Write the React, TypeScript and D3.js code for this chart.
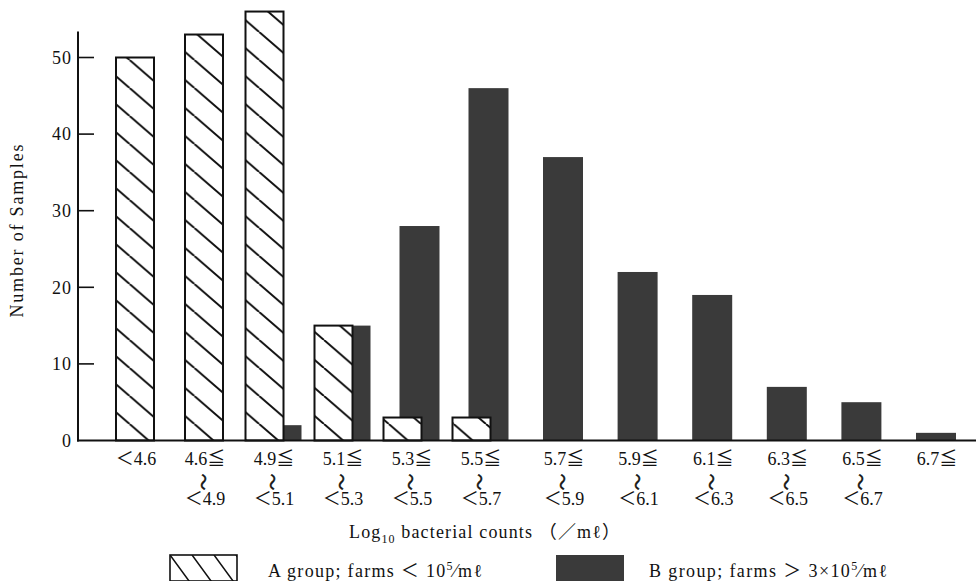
import React from "react";
import * as d3 from "d3";

// Bin bounds (Log10 bacterial counts /mℓ)
const binLower: (string | null)[] = [null, "4.6", "4.9", "5.1", "5.3", "5.5", "5.7", "5.9", "6.1", "6.3", "6.5", "6.7"];
const binUpper: (string | null)[] = ["4.6", "4.9", "5.1", "5.3", "5.5", "5.7", "5.9", "6.1", "6.3", "6.5", "6.7", null];

// Number of samples
const groupA = [50, 53, 56, 15, 3, 3, 0, 0, 0, 0, 0, 0];
const groupB = [0, 0, 2, 15, 28, 46, 37, 22, 19, 7, 5, 1];

const yTicks = [0, 10, 20, 30, 40, 50];

const yTitle = "Number of Samples";
const legendA = "A group; farms";
const legendB = "B group; farms";

const W = 976;
const H = 581;
const FONT = "'Liberation Serif', 'DejaVu Serif', 'Noto Sans CJK JP', serif";
const INK = "#111";
const DARK = "#3a3a3a";

export default function App() {
  const idx = d3.range(groupA.length);
  const x = d3.scaleLinear().domain([0, 5, 6, 11]).range([135, 480, 563, 936]);
  const y = d3.scaleLinear().domain([0, 50]).range([440.5, 57.5]);
  const axisX = 78;
  const axisTop = y(53.4);
  const wA = 38;
  const wB = 40;
  const shift = 8.5;

  const pw = 32.4;
  const ph = 28;

  const barA = (i: number) => {
    const c = x(i) - (groupB[i] > 0 ? shift : 0);
    return { x0: c - wA / 2, y0: y(groupA[i]), h: y(0) - y(groupA[i]) };
  };
  const barB = (i: number) => {
    const c = x(i) + (groupA[i] > 0 ? shift : 0);
    return { x0: c - wB / 2, y0: y(groupB[i]), h: y(0) - y(groupB[i]) };
  };

  return (
    <svg
      width={W}
      height={H}
      viewBox={`0 0 ${W} ${H}`}
      style={{ position: "absolute", left: 0, top: 0, background: "#fff" }}
      fontFamily={FONT}
    >
      <defs>
        <pattern id="hatch" patternUnits="userSpaceOnUse" width={pw} height={ph} x={0} y={4}>
          <rect width={pw} height={ph} fill="#fff" />
          <path
            d={`M${-pw},0 L0,${ph} M0,0 L${pw},${ph} M${pw},0 L${2 * pw},${ph}`}
            stroke={INK}
            strokeWidth={2}
          />
        </pattern>
        <pattern id="hatchLegend" patternUnits="userSpaceOnUse" width={22} height={30} x={170} y={555}>
          <rect width={22} height={30} fill="#fff" />
          <path d={`M-22,0 L0,30 M0,0 L22,30 M22,0 L44,30`} stroke={INK} strokeWidth={1.6} />
        </pattern>
      </defs>

      {/* B bars (behind) */}
      {idx
        .filter((i) => groupB[i] > 0)
        .map((i) => {
          const b = barB(i);
          return <rect key={`b${i}`} x={b.x0} y={b.y0} width={wB} height={b.h} fill={DARK} />;
        })}

      {/* A bars (front) */}
      {idx
        .filter((i) => groupA[i] > 0)
        .map((i) => {
          const a = barA(i);
          return (
            <rect
              key={`a${i}`}
              x={a.x0}
              y={a.y0}
              width={wA}
              height={a.h}
              fill="url(#hatch)"
              stroke={INK}
              strokeWidth={2}
            />
          );
        })}

      {/* axes */}
      <line x1={axisX} x2={axisX} y1={axisTop} y2={y(0) + 1} stroke={INK} strokeWidth={2} />
      <line x1={axisX - 1} x2={W} y1={y(0)} y2={y(0)} stroke={INK} strokeWidth={2} />

      {/* y ticks */}
      {yTicks.map((t) => (
        <g key={`t${t}`}>
          {t > 0 && <line x1={axisX} x2={axisX + 16} y1={y(t)} y2={y(t)} stroke={INK} strokeWidth={1.6} />}
          <text x={72} y={y(t)} dy="0.35em" textAnchor="end" fontSize={18} fill={INK} letterSpacing={1}>
            {t}
          </text>
        </g>
      ))}

      {/* y title */}
      <text
        transform={`translate(23, ${231}) rotate(-90)`}
        textAnchor="middle"
        fontSize={18}
        fill={INK}
        textLength={173}
        lengthAdjust="spacing"
      >
        {yTitle}
      </text>

      {/* x tick labels */}
      {idx.map((i) => {
        const cx = x(i) + 1;
        const lo = binLower[i];
        const hi = binUpper[i];
        return (
          <g key={`l${i}`} fill={INK} fontSize={18} textAnchor="middle">
            {lo === null && hi !== null && (
              <text x={cx} y={465}>
                {"＜" + hi}
              </text>
            )}
            {lo !== null && (
              <text x={cx} y={465}>
                {lo + "≦"}
              </text>
            )}
            {lo !== null && hi !== null && (
              <>
                <text
                  transform={`translate(${cx - 2}, 482) rotate(90)`}
                  fontSize={17}
                  dy="0.35em"
                  textAnchor="middle"
                  stroke={INK}
                  strokeWidth={0.5}
                  fontFamily="'Noto Sans CJK JP', sans-serif"
                >
                  {"〜"}
                </text>
                <text x={cx} y={505}>
                  {"＜" + hi}
                </text>
              </>
            )}
          </g>
        );
      })}

      {/* x title */}
      <text x={349} y={538} fontSize={18} fill={INK} textLength={271} lengthAdjust="spacing">
        Log
        <tspan fontSize={12} dy={5}>
          10
        </tspan>
        <tspan dy={-5}> bacterial counts （／mℓ）</tspan>
      </text>

      {/* legend */}
      <rect x={170} y={555} width={67} height={26} fill="url(#hatchLegend)" stroke={INK} strokeWidth={1.6} />
      <text x={268} y={577} fontSize={18} fill={INK} textLength={214} lengthAdjust="spacing">
        {legendA} ＜ 10
        <tspan fontSize={12} dy={-7}>
          5
        </tspan>
        <tspan dy={7}>⁄mℓ</tspan>
      </text>

      <rect x={556} y={555} width={68} height={26} fill={DARK} />
      <text x={649} y={577} fontSize={18} fill={INK} textLength={238} lengthAdjust="spacing">
        {legendB} ＞ 3×10
        <tspan fontSize={12} dy={-7}>
          5
        </tspan>
        <tspan dy={7}>⁄mℓ</tspan>
      </text>
    </svg>
  );
}
